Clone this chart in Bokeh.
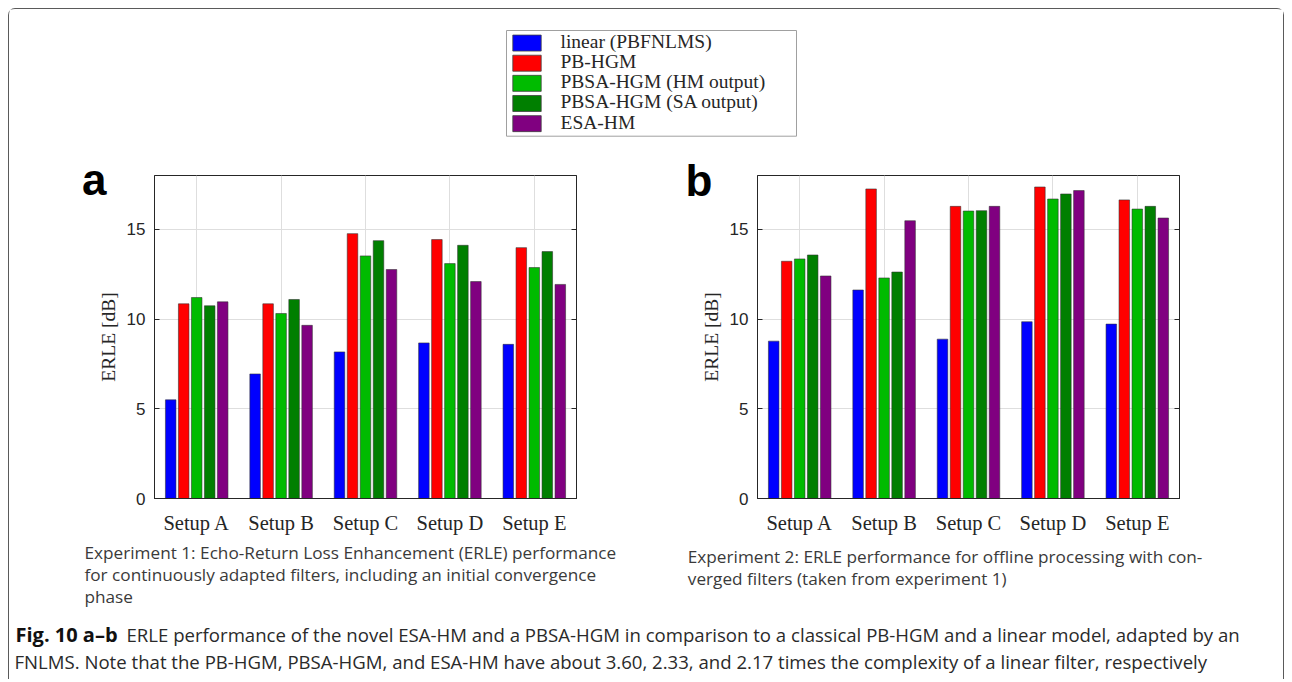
from bokeh.plotting import figure
from bokeh.models import (ColumnDataSource, FactorRange, Range1d, FixedTicker,
                          LinearAxis, CustomJSTickFormatter)
from bokeh.transform import dodge
from bokeh.layouts import column, row
from bokeh.embed import file_html
from bokeh.resources import INLINE
from bokeh.core.properties import value

# ---------------- data ----------------
setups = ["Setup A", "Setup B", "Setup C", "Setup D", "Setup E"]
series_names = ["linear (PBFNLMS)", "PB-HGM", "PBSA-HGM (HM output)",
                "PBSA-HGM (SA output)", "ESA-HM"]
series_colors = ["#0000ff", "#ff0000", "#00bb00", "#007f00", "#800080"]
y_ticks = [0, 5, 10, 15]

# Experiment 1 (panel a)
exp1_linear = [5.50, 6.94, 8.17, 8.67, 8.59]
exp1_pbhgm = [10.85, 10.85, 14.76, 14.43, 13.98]
exp1_pbsa_hm = [11.20, 10.31, 13.52, 13.09, 12.87]
exp1_pbsa_sa = [10.74, 11.09, 14.37, 14.11, 13.76]
exp1_esahm = [10.96, 9.65, 12.76, 12.09, 11.93]

# Experiment 2 (panel b)
exp2_linear = [8.77, 11.62, 8.88, 9.85, 9.72]
exp2_pbhgm = [13.22, 17.25, 16.28, 17.36, 16.64]
exp2_pbsa_hm = [13.35, 12.29, 16.02, 16.69, 16.13]
exp2_pbsa_sa = [13.57, 12.62, 16.04, 16.97, 16.28]
exp2_esahm = [12.40, 15.48, 16.28, 17.16, 15.63]

caption_a = ["Experiment 1: Echo-Return Loss Enhancement (ERLE) performance",
             "for continuously adapted filters, including an initial convergence",
             "phase"]
caption_b = ["Experiment 2: ERLE performance for offline processing with con-",
             "verged filters (taken from experiment 1)"]
fig_caption_bold = "Fig. 10 a\u2013b"
fig_caption_1 = ("ERLE performance of the novel ESA-HM and a PBSA-HGM in comparison "
                 "to a classical PB-HGM and a linear model, adapted by an")
fig_caption_2 = ("FNLMS. Note that the PB-HGM, PBSA-HGM, and ESA-HM have about 3.60, "
                 "2.33, and 2.17 times the complexity of a linear filter, respectively")

# ---------------- layout constants ----------------
OX, OY = 9, 9          # page position of content origin (inside border)
W = 1274
TOP_H, MID_H, CAP_H, BOT_H = 141, 387, 78, 64
A_W = 641
B_W = W - A_W
Y_MAX = 18
FRAME_W, FRAME_H = 422, 323
FRAME_TOP = 25
UY = FRAME_H / Y_MAX
FRAME_BOTTOM_PAGE = OY + TOP_H + FRAME_TOP + FRAME_H

SERIF = "Liberation Serif"
SANS = "Liberation Sans"
CAP = "Open Sans"
INK = "#262626"


def bar_panel(fig_w, left, vals, letter, letter_center_y, letter_standoff):
    right = fig_w - left - FRAME_W
    p = figure(width=fig_w, height=MID_H,
               x_range=FactorRange(*setups), y_range=Range1d(0, Y_MAX),
               output_backend="svg", toolbar_location=None,
               min_border_left=left, min_border_right=right,
               min_border_top=FRAME_TOP,
               min_border_bottom=MID_H - FRAME_TOP - FRAME_H)
    p.background_fill_color = "white"
    p.border_fill_color = "white"
    p.outline_line_color = INK
    p.outline_line_width = 1

    data = dict(setup=setups)
    for i, v in enumerate(vals):
        data["s%d" % i] = v
    src = ColumnDataSource(data)
    n = len(series_names)
    slot = 0.154
    for i in range(n):
        p.vbar(x=dodge("setup", (i - (n - 1) / 2) * slot, range=p.x_range),
               top="s%d" % i, width=0.125, bottom=0, source=src,
               fill_color=series_colors[i], line_color="#303030",
               line_width=0.8, line_alpha=0.7)

    # y axis
    p.yaxis.ticker = FixedTicker(ticks=y_ticks)
    p.yaxis.major_tick_in = 5
    p.yaxis.major_tick_out = 0
    p.yaxis.minor_tick_line_color = None
    p.yaxis.major_label_standoff = 9
    p.yaxis.major_label_text_font = SANS
    p.yaxis.major_label_text_font_size = "17px"
    p.yaxis.major_label_text_color = INK
    p.yaxis.axis_line_color = INK
    p.yaxis.major_tick_line_color = INK
    p.yaxis.axis_label = "ERLE [dB]"
    p.yaxis.axis_label_text_font = SERIF
    p.yaxis.axis_label_text_font_size = "19.5px"
    p.yaxis.axis_label_text_font_style = "normal"
    p.yaxis.axis_label_text_color = INK
    p.yaxis.axis_label_standoff = 5

    # x axis
    p.xaxis.major_tick_line_color = None
    p.xaxis.minor_tick_line_color = None
    p.xaxis.axis_line_color = INK
    p.xaxis.major_label_text_font = SERIF
    p.xaxis.major_label_text_font_size = "20.5px"
    p.xaxis.major_label_text_color = INK
    p.xaxis.major_label_standoff = 7

    # MATLAB-like box: inward ticks on the right edge too
    right_ax = LinearAxis(ticker=FixedTicker(ticks=y_ticks),
                          formatter=CustomJSTickFormatter(code="return ''"),
                          major_tick_in=5, major_tick_out=0,
                          minor_tick_line_color=None,
                          axis_line_color=INK, major_tick_line_color=INK)
    p.add_layout(right_ax, "right")

    # panel letter (a / b) as an outer axis label
    letter_y = (FRAME_BOTTOM_PAGE - letter_center_y) / UY
    letter_ax = LinearAxis(ticker=FixedTicker(ticks=[letter_y]),
                           formatter=CustomJSTickFormatter(code="return '%s'" % letter),
                           major_tick_in=0, major_tick_out=0,
                           major_tick_line_color=None, minor_tick_line_color=None,
                           axis_line_color=None,
                           major_label_standoff=letter_standoff,
                           major_label_text_font=SANS,
                           major_label_text_font_style="bold",
                           major_label_text_font_size="44px",
                           major_label_text_color="black")
    p.add_layout(letter_ax, "left")

    p.xgrid.grid_line_color = "#dedede"
    p.ygrid.grid_line_color = "#dedede"
    p.ygrid.ticker = FixedTicker(ticks=[5, 10, 15])
    return p


pa = bar_panel(A_W, 145,
               [exp1_linear, exp1_pbhgm, exp1_pbsa_hm, exp1_pbsa_sa, exp1_esahm],
               "a", 178.5, -12)
pb = bar_panel(B_W, 107,
               [exp2_linear, exp2_pbhgm, exp2_pbsa_hm, exp2_pbsa_sa, exp2_esahm],
               "b", 179.5, -15)


def strip(height):
    s = figure(width=W, height=height, x_range=Range1d(0, W), y_range=Range1d(height, 0),
               x_axis_location=None, y_axis_location=None, min_border=0,
               output_backend="svg", toolbar_location=None)
    s.grid.visible = False
    s.outline_line_color = None
    s.background_fill_color = "white"
    s.border_fill_color = "white"
    return s


# ---------------- top strip with legend ----------------
t = strip(TOP_H)
lg_left, lg_right, lg_top, lg_bottom = 506 - OX, 796 - OX, 30 - OY, 135.7 - OY
t.quad(left=lg_left, right=lg_right, top=lg_top, bottom=lg_bottom,
       fill_color="white", line_color="#a0a0a0", line_width=1)
row_h = (lg_bottom - lg_top - 2 * 2.5) / len(series_names)
rows_y = [lg_top + 2.5 + (i + 0.5) * row_h for i in range(len(series_names))]
t.rect(x=[lg_left + 20.5] * len(series_names), y=rows_y, width=28.4, height=16,
       fill_color=series_colors, line_color="#404040", line_width=0.8)
t.text(x=[lg_left + 54] * len(series_names), y=[r - 1.5 for r in rows_y],
       text=series_names,
       text_font=value(SERIF), text_font_size="19.5px", text_color=INK,
       text_baseline="middle", text_align="left")

# ---------------- strip with the two panel captions ----------------
c = strip(CAP_H)
cap_top = OY + TOP_H + MID_H
c.text(x=[84 - OX] * len(caption_a), y=[b - cap_top for b in [551.5, 573.5, 595.5]],
       text=caption_a, text_font=value(CAP), text_font_size="17.2px",
       text_color="#3a3a3a", text_baseline="alphabetic", text_align="left")
c.text(x=[687.3 - OX] * len(caption_b), y=[b - cap_top for b in [555.5, 577.5]],
       text=caption_b, text_font=value(CAP), text_font_size="17.2px",
       text_color="#3a3a3a", text_baseline="alphabetic", text_align="left")

# ---------------- bottom strip with figure caption ----------------
bo = strip(BOT_H)
bot_top = cap_top + CAP_H
bo.text(x=[15 - OX], y=[634 - bot_top], text=[fig_caption_bold],
        text_font=value(CAP), text_font_style="bold", text_font_size="20px",
        text_color="#111111", text_baseline="alphabetic")
bo.text(x=[126 - OX], y=[634 - bot_top], text=[fig_caption_1],
        text_font=value(CAP), text_font_size="18.6px",
        text_color="#2a2a2a", text_baseline="alphabetic")
bo.text(x=[14 - OX], y=[661 - bot_top], text=[fig_caption_2],
        text_font=value(CAP), text_font_size="18.6px",
        text_color="#2a2a2a", text_baseline="alphabetic")

layout = column(t, row(pa, pb), c, bo,
                styles={"margin": "8px 0 0 8px",
                        "border-top": "1px solid #5a5a5a",
                        "border-left": "1px solid #5a5a5a",
                        "border-right": "1px solid #5a5a5a",
                        "border-top-left-radius": "7px",
                        "border-top-right-radius": "7px"})

open("out.html", "w").write(file_html(layout, INLINE))
